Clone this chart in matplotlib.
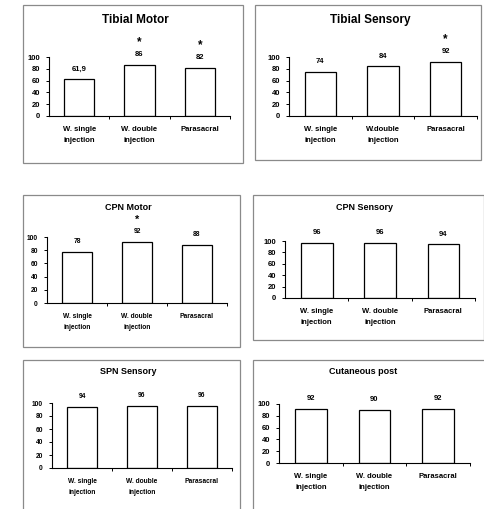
import matplotlib.pyplot as plt
from matplotlib.patches import Rectangle

plt.rcParams['font.family'] = ['Liberation Sans', 'DejaVu Sans']

W, H = 485, 509
DPI = 100

categories_a = ['W. single\ninjection', 'W. double\ninjection', 'Parasacral']
categories_b = ['W. single\ninjection', 'W.double\ninjection', 'Parasacral']

tibial_motor = [61.9, 86, 82]
tibial_motor_txt = ['61,9', '86', '82']
tibial_motor_star = [False, True, True]

tibial_sensory = [74, 84, 92]
tibial_sensory_star = [False, False, True]

cpn_motor = [78, 92, 88]
cpn_motor_star = [False, True, False]

cpn_sensory = [96, 96, 94]
spn_sensory = [94, 96, 96]
cutaneous_post = [92, 90, 92]

yticks = [0, 20, 40, 60, 80, 100]

fig = plt.figure(figsize=(W / DPI, H / DPI), dpi=DPI)


def px_box(x0, y0, x1, y1):
    # pixel rect (top-left origin) -> figure fraction [l, b, w, h]
    return [x0 / W, 1 - y1 / H, (x1 - x0) / W, (y1 - y0) / H]


def panel(box, axpx, title, tcen, vals, cats, txt=None, stars=None,
          tsize=8.5, fsize=5.5, tweight='bold'):
    bx0, by0, bx1, by1 = box
    fig.patches.append(Rectangle((bx0 / W, 1 - by1 / H), (bx1 - bx0) / W,
                                 (by1 - by0) / H, transform=fig.transFigure,
                                 fill=False, edgecolor='#8a8a8a', lw=0.9))
    fig.text(tcen[0] / W, 1 - tcen[1] / H, title, ha='center', va='center',
             fontsize=tsize, fontweight=tweight)

    left, right, y0, y100 = axpx
    ax = fig.add_axes(px_box(left, y100, right, y0))
    x = range(len(vals))
    ax.bar(x, vals, width=0.5, color='white', edgecolor='black', lw=0.9)
    ax.set_xlim(-0.5, 2.5)
    ax.set_ylim(0, 100)
    ax.spines[['top', 'right']].set_visible(False)
    ax.spines[['left', 'bottom']].set_linewidth(0.8)
    ax.set_yticks(yticks)
    ax.set_yticklabels([str(t) for t in yticks], fontsize=fsize,
                       fontweight='bold')
    ax.tick_params(axis='y', length=2.5, width=0.7, pad=4)
    ax.set_xticks(list(x))
    ax.set_xticklabels(cats, fontsize=fsize, fontweight='bold',
                       linespacing=1.9)
    ax.tick_params(axis='x', length=0, pad=7)
    ax.set_xticks([0.5, 1.5, 2.5], minor=True)
    ax.tick_params(axis='x', which='minor', length=2.5, width=0.7)

    if txt is None:
        txt = [f'{v:g}' for v in vals]
    for i, v in enumerate(vals):
        ax.annotate(txt[i], (i, v), xytext=(0, 7.5), textcoords='offset points',
                    ha='center', va='center', fontsize=fsize, fontweight='bold',
                    annotation_clip=False)
        if stars is not None and stars[i]:
            ax.annotate('*', (i, v), xytext=(0, 16.5), textcoords='offset points',
                        ha='center', va='center', fontsize=fsize + 3,
                        fontweight='bold', annotation_clip=False)
    return ax


panel((23, 5, 243, 163), (49, 230, 116, 57), 'Tibial Motor', (135, 20),
      tibial_motor, categories_a, txt=tibial_motor_txt, stars=tibial_motor_star)
panel((255, 5, 481, 160), (289, 477, 116, 57), 'Tibial Sensory', (370, 20),
      tibial_sensory, categories_b, stars=tibial_sensory_star)
panel((23, 195, 240, 347), (47, 227, 303, 237), 'CPN Motor', (128, 208),
      cpn_motor, categories_a, stars=cpn_motor_star, tsize=6.5, fsize=4.8)
panel((253, 195, 484, 340), (285, 475, 298, 241), 'CPN Sensory', (365, 208),
      cpn_sensory, categories_a, tsize=6.5, fsize=5.5)
panel((23, 360, 240, 512), (52, 232, 468, 403), 'SPN Sensory', (128, 372),
      spn_sensory, categories_a, tsize=6.5, fsize=4.8)
panel((253, 360, 487, 512), (279, 470, 463, 404), 'Cutaneous post', (363, 372),
      cutaneous_post, categories_a, tsize=6.5, fsize=5.5)

fig.savefig('out.png', dpi=DPI)
